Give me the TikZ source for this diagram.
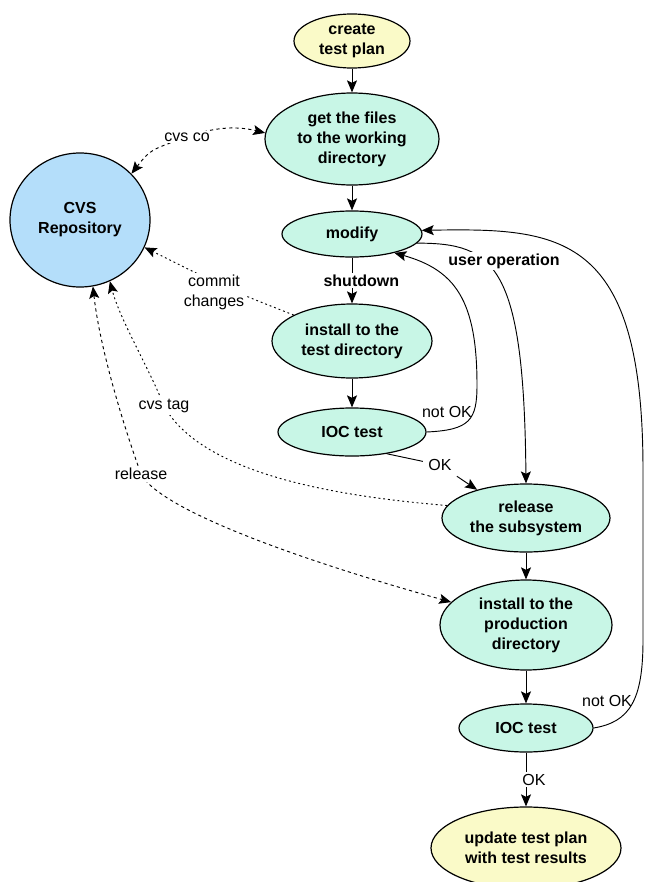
\documentclass[tikz,border=0pt]{standalone}
\usepackage{fontspec}
\setmainfont{Liberation Sans}
\usepackage{tikz}
\usetikzlibrary{shapes.geometric, arrows.meta, positioning, calc}
\definecolor{stepmint}{RGB}{200,246,230}
\definecolor{planyellow}{RGB}{250,250,200}
\definecolor{repoblue}{RGB}{180,222,250}
\definecolor{mydark}{RGB}{0,0,0}
\tikzset{
  task/.style={ellipse, draw=mydark, fill=stepmint, align=center,
    inner sep=0pt, font=\bfseries\fontsize{12}{15}\selectfont, line width=0.9pt},
  plannode/.style={task, fill=planyellow},
  reponode/.style={task, fill=repoblue},
  lbl/.style={font=\fontsize{12}{15}\selectfont, align=center, inner sep=1.5pt},
  lblbold/.style={lbl, font=\bfseries\fontsize{12}{15}\selectfont},
  tip/.tip={Stealth[length=9pt, width=7.5pt, inset=1.8pt]},
  arrow/.style={-tip, line width=0.7pt, color=mydark},
  line/.style={line width=0.7pt, color=mydark},
  cvsdash/.style={line width=0.7pt, dash pattern=on 2.4pt off 2.4pt},
  cvsdot/.style={line width=0.7pt, dash pattern=on 1.4pt off 2.2pt}
}

\begin{document}
\begin{tikzpicture}[x=0.75pt, y=-0.75pt]
  \useasboundingbox (0,0) rectangle (645,882);
  % main column
  \node[plannode, minimum width=87pt, minimum height=40.5pt] (plan) at (352,41) {create\\test plan};
  \node[task, minimum width=130.5pt, minimum height=69pt] (files) at (352,139) {get the files\\to the working\\directory};
  \node[task, minimum width=105pt, minimum height=34.5pt] (modify) at (352,234) {modify};
  \node[task, minimum width=120pt, minimum height=55.5pt] (insttest) at (352,341) {install to the\\test directory};
  \node[task, minimum width=111pt, minimum height=36pt] (iocone) at (352,432) {IOC test};
  \node[task, minimum width=126pt, minimum height=51pt] (release) at (526,518) {release\\the subsystem};
  \node[task, minimum width=129pt, minimum height=67.5pt] (instprod) at (526,625) {install to the\\production\\directory};
  \node[task, minimum width=100.5pt, minimum height=36pt] (ioctwo) at (526,728) {IOC test};
  \node[plannode, minimum width=142.5pt, minimum height=61.5pt] (update) at (526,848) {update test plan\\with test results};
  \node[reponode, minimum width=105pt, minimum height=100.5pt] (repo) at (80,220) {CVS\\Repository};

  \draw[arrow] (plan) -- (files);
  \draw[arrow] (files) -- (modify);
  \draw[arrow] (insttest) -- (iocone);
  \draw[arrow] (release) -- (instprod);
  \draw[arrow] (instprod) -- (ioctwo);

  % test loops
  \draw[arrow] (iocone.east) .. controls (470,430) and (477,420) .. (477,385)
    .. controls (477,300) and (455,270) .. (modify.-24);
  \draw[arrow] (ioctwo.east) .. controls (630,722) and (643,700) .. (643,640)
    -- (643,470) .. controls (643,232) and (560,228) .. (modify.3);
  \draw[arrow] (modify.-8) .. controls (495,243) and (524,265) .. (release.north);
  \node[lbl] (notokone) at (447,412) {not OK};
  \node[lbl] (notoktwo) at (607,701) {not OK};

  % cvs operations
  \draw[cvsdash, tip-tip]
    (repo.42) .. controls (150,150) .. (187,137) .. controls (222,124) and (245,128) .. (files.176);
  \draw[cvsdot, -tip]
    (insttest.156) .. controls (230,290) .. (repo.-23);
  \draw[cvsdot, -tip]
    (release.171) .. controls (320,495) and (200,470) .. (164,406)
    .. controls (150,370) and (120,320) .. (repo.-64);
  \draw[cvsdash, tip-tip]
    (repo.-79) .. controls (100,350) and (125,430) .. (141,474)
    .. controls (160,510) and (300,560) .. (instprod.163);
  \node[lbl, fill=white] (cvsco) at (187,137) {cvs co};
  \node[lbl, fill=white] (commit) at (214,292) {commit\\changes};
  \node[lbl, fill=white] (cvstag) at (164,406) {cvs tag};
  \node[lbl, fill=white] (cvsrel) at (141,474) {release};

  % labelled steps
  \draw[arrow] (modify) -- node[lblbold, fill=white, xshift=7pt] (shutdown) {shutdown} (insttest);
  \node[lblbold, fill=white] (userop) at (504,261) {user operation};
  \node[lbl, inner sep=4pt] (okone) at (440,465) {OK};
  \draw[line] (iocone.-32) -- (okone);
  \draw[arrow] (okone) -- (release.150);
  \draw[arrow] (ioctwo) -- node[lbl, fill=white, xshift=6pt] (oktwo) {OK} (update);
\end{tikzpicture}
\end{document}
